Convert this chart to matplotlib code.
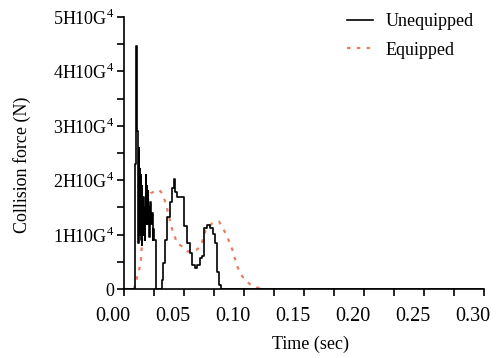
import matplotlib
matplotlib.use("Agg")
import matplotlib.pyplot as plt
import matplotlib.transforms as mtransforms
import numpy as np

plt.rcParams['font.family'] = ['Liberation Serif', 'DejaVu Serif']
plt.rcParams['mathtext.fontset'] = 'custom'
plt.rcParams['mathtext.rm'] = 'Liberation Serif'

# Unequipped (black, stepped) -- time (s), force (x1e4 N)
unequipped_t = [0.0, 0.0088, 0.0101, 0.0107, 0.0113, 0.0119, 0.0123, 0.0128, 0.0132, 0.0136,
                0.0140, 0.0143, 0.0147, 0.0150, 0.0154, 0.0157, 0.0161, 0.0164, 0.0168, 0.0171,
                0.0175, 0.0178, 0.0182, 0.0186, 0.0190, 0.0194, 0.0198, 0.0202, 0.0206, 0.0210,
                0.0220, 0.0226, 0.0232, 0.0238, 0.0244, 0.0250, 0.0265, 0.0318, 0.0326, 0.0340,
                0.0362, 0.0385, 0.0400, 0.0415, 0.0429, 0.0443, 0.0500, 0.0525, 0.0546, 0.0570,
                0.0590, 0.0611, 0.0632, 0.0646, 0.0667, 0.0694, 0.0719, 0.0740, 0.0757, 0.0771,
                0.0790, 0.0810, 0.30]
unequipped_f = [0.0, 2.3, 4.47, 2.9, 2.65, 0.85, 2.6, 1.0, 2.2, 1.3,
                2.1, 0.9, 1.9, 0.8, 1.6, 1.1, 1.7, 1.0, 1.5, 0.9,
                1.4, 1.2, 2.1, 1.2, 1.9, 1.4, 1.8, 1.2, 1.5, 0.95,
                1.6, 1.2, 1.4, 0.9, 1.1, 0.9, 0.0, 0.17, 0.48, 0.9,
                1.33, 1.6, 1.85, 2.03, 1.79, 1.7, 1.15, 0.85, 0.66, 0.44,
                0.39, 0.44, 0.57, 0.6, 1.12, 1.18, 1.12, 1.02, 0.84, 0.32,
                0.07, 0.0, 0.0]

# Equipped (orange dotted)
equipped_t = [0.0, 0.0083, 0.0111, 0.0139, 0.0153, 0.0167, 0.0194, 0.0222, 0.025, 0.0292,
              0.0319, 0.0347, 0.0375, 0.0403, 0.0444, 0.0486, 0.0528, 0.0569, 0.0604, 0.0639,
              0.068, 0.0736, 0.0792, 0.0833, 0.0861, 0.0903, 0.0944, 0.0986, 0.1042, 0.1097,
              0.1181]
equipped_f = [0.0, 0.0, 0.23, 0.47, 0.96, 1.33, 1.58, 1.76, 1.79, 1.82,
              1.76, 1.58, 1.33, 1.08, 0.84, 0.78, 0.69, 0.69, 0.72, 0.78,
              1.08, 1.21, 1.24, 1.08, 0.96, 0.72, 0.41, 0.23, 0.1, 0.03,
              0.0]

x_ticks = [0.00, 0.05, 0.10, 0.15, 0.20, 0.25, 0.30]
x_ticklabels = ['0.00', '0.05', '0.10', '0.15', '0.20', '0.25', '0.30']
y_ticks = [0, 1e4, 2e4, 3e4, 4e4, 5e4]
y_ticklabels = ['0', r'1H10G$^{4}$', r'2H10G$^{4}$', r'3H10G$^{4}$', r'4H10G$^{4}$', r'5H10G$^{4}$']

W, H = 496, 358
fig = plt.figure(figsize=(W / 100, H / 100), dpi=100)
ax = fig.add_axes([124 / W, 1 - 289 / H, 360 / W, 272 / H])

ax.plot(equipped_t, np.array(equipped_f) * 1e4, color='#ec7c62', lw=1.6,
        linestyle=(0, (1.6, 2.8)), label='Equipped', zorder=2)
ax.plot(unequipped_t, np.array(unequipped_f) * 1e4, color='black', lw=1.2,
        drawstyle='steps-post', label='Unequipped', zorder=3)

ax.set_xlim(0, 0.30)
ax.set_ylim(0, 5e4)
ax.set_xticks(x_ticks)
ax.set_xticklabels(x_ticklabels, fontsize=14.5)
ax.set_xticks(np.arange(0, 0.301, 0.025), minor=True)
ax.set_yticks(y_ticks)
ax.set_yticklabels(y_ticklabels, fontsize=13)
ax.set_yticks(np.arange(0, 50001, 5000), minor=True)

for s in ['top', 'right']:
    ax.spines[s].set_visible(False)
for s in ['left', 'bottom']:
    ax.spines[s].set_linewidth(1.2)

ax.tick_params(axis='x', which='both', direction='out', length=5, width=1.2, pad=8)
ax.tick_params(axis='y', which='both', direction='out', length=5, width=1.2, pad=2)

offset = mtransforms.ScaledTranslation(-11 / 100, 0, fig.dpi_scale_trans)
for lbl in ax.get_xticklabels():
    lbl.set_transform(lbl.get_transform() + offset)

ax.set_xlabel('Time (sec)', fontsize=13)
ax.xaxis.set_label_coords((310 - 124) / 360, -(344 - 289) / 272)
ax.xaxis.label.set_va('center')
ax.set_ylabel('Collision force (N)', fontsize=13)
ax.yaxis.set_label_coords((22 - 124) / 360, (289 - 165) / 272)
ax.yaxis.label.set_va('center')

handles, labels = ax.get_legend_handles_labels()
leg = ax.legend(handles[::-1], labels[::-1], loc='upper left',
                bbox_to_anchor=((347 - 124) / 360, (289 - 13) / 272),
                frameon=False, fontsize=13, handlelength=1.45, handletextpad=0.7,
                borderaxespad=0, borderpad=0, labelspacing=0.65)

fig.savefig('out.png', dpi=100)
